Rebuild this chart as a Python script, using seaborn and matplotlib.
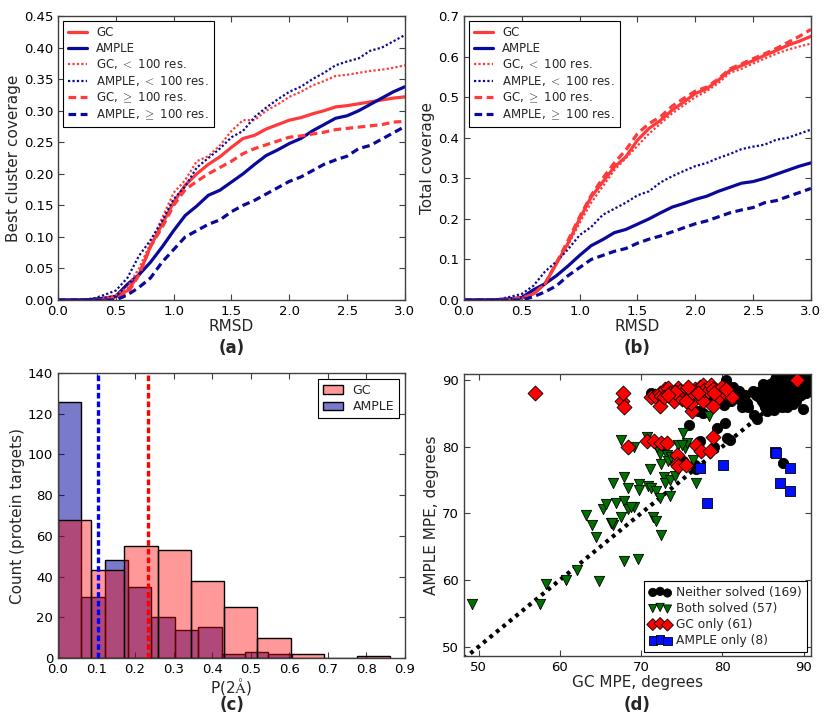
"""
GC vs AMPLE comparison — four panel figure.
(a)/(b) coverage vs RMSD, (c) P(2A) histogram, (d) MPE scatter.
"""

import numpy as np
import matplotlib
matplotlib.use("Agg")
import matplotlib.pyplot as plt
import seaborn as sns

# ── Data ─────────────────────────────────────────────────────
RMSD = [0.0, 0.1, 0.2, 0.3, 0.4, 0.5, 0.6, 0.7, 0.8, 0.9, 1.0,
        1.1, 1.2, 1.3, 1.4, 1.5, 1.6, 1.7, 1.8, 1.9, 2.0,
        2.1, 2.2, 2.3, 2.4, 2.5, 2.6, 2.7, 2.8, 2.9, 3.0]

# (a) best cluster coverage
GC_BEST = [0, 0, 0, 0.001, 0.002, 0.005, 0.015, 0.04, 0.085, 0.12, 0.155,
           0.182, 0.200, 0.215, 0.227, 0.242, 0.256, 0.261, 0.271, 0.278, 0.285,
           0.289, 0.295, 0.300, 0.306, 0.308, 0.311, 0.314, 0.317, 0.320, 0.322]
GC_BEST_SMALL = [0, 0, 0, 0.001, 0.003, 0.008, 0.02, 0.05, 0.09, 0.13, 0.17,
                 0.19, 0.22, 0.228, 0.245, 0.268, 0.285, 0.285, 0.30, 0.31, 0.322,
                 0.33, 0.34, 0.347, 0.355, 0.357, 0.36, 0.363, 0.365, 0.368, 0.372]
GC_BEST_LARGE = [0, 0, 0, 0, 0.001, 0.003, 0.01, 0.04, 0.085, 0.115, 0.15,
                 0.175, 0.188, 0.20, 0.21, 0.22, 0.232, 0.24, 0.246, 0.252, 0.258,
                 0.26, 0.263, 0.266, 0.27, 0.272, 0.274, 0.276, 0.278, 0.282, 0.283]

# AMPLE curves (same in both panels)
AMPLE_ALL = [0, 0, 0, 0.001, 0.003, 0.006, 0.025, 0.04, 0.06, 0.084, 0.11,
             0.134, 0.149, 0.166, 0.174, 0.187, 0.20, 0.215, 0.229, 0.238, 0.248,
             0.256, 0.268, 0.278, 0.288, 0.292, 0.30, 0.31, 0.32, 0.33, 0.338]
AMPLE_SMALL = [0, 0, 0.001, 0.002, 0.008, 0.015, 0.035, 0.07, 0.095, 0.125, 0.16,
               0.18, 0.21, 0.225, 0.24, 0.258, 0.268, 0.29, 0.305, 0.318, 0.33,
               0.338, 0.35, 0.36, 0.372, 0.378, 0.383, 0.395, 0.40, 0.41, 0.42]
AMPLE_LARGE = [0, 0, 0, 0, 0, 0, 0.008, 0.02, 0.035, 0.06, 0.08,
               0.10, 0.11, 0.12, 0.127, 0.14, 0.15, 0.158, 0.168, 0.178, 0.188,
               0.195, 0.205, 0.215, 0.222, 0.228, 0.24, 0.245, 0.255, 0.265, 0.275]

# (b) total coverage, GC
GC_TOTAL = [0, 0, 0, 0.001, 0.002, 0.005, 0.015, 0.04, 0.09, 0.14, 0.20,
            0.254, 0.291, 0.328, 0.353, 0.394, 0.423, 0.443, 0.468, 0.488, 0.509,
            0.521, 0.542, 0.566, 0.578, 0.59, 0.603, 0.615, 0.628, 0.638, 0.65]
GC_TOTAL_SMALL = [0, 0, 0, 0.001, 0.002, 0.005, 0.015, 0.04, 0.09, 0.135, 0.19,
                  0.24, 0.28, 0.32, 0.35, 0.38, 0.41, 0.435, 0.46, 0.48, 0.50,
                  0.515, 0.535, 0.56, 0.57, 0.583, 0.595, 0.607, 0.617, 0.625, 0.632]
GC_TOTAL_LARGE = [0, 0, 0, 0.001, 0.002, 0.005, 0.015, 0.04, 0.092, 0.147, 0.205,
                  0.258, 0.30, 0.338, 0.37, 0.41, 0.435, 0.452, 0.478, 0.497, 0.515,
                  0.525, 0.545, 0.57, 0.582, 0.595, 0.607, 0.62, 0.635, 0.65, 0.667]

# (c) P(2A) histograms
GC_EDGES = [0.0, 0.0862, 0.1724, 0.2586, 0.3448, 0.431, 0.5172, 0.6034, 0.6896, 0.7758, 0.862]
GC_COUNTS = [68, 43, 55, 53, 38, 25, 10, 2, 0, 1]
AMPLE_EDGES = [0.0, 0.0606, 0.1212, 0.1818, 0.2424, 0.303, 0.3636, 0.4242, 0.4848, 0.5454, 0.606]
AMPLE_COUNTS = [126, 30, 48, 35, 20, 14, 15, 2, 3, 2]
GC_MEAN = 0.233
AMPLE_MEAN = 0.103

# (d) MPE scatter  (GC MPE, AMPLE MPE)
NEITHER = [
    (71.2, 88.0), (72.9, 88.2), (73.5, 87.8), (75.6, 87.0), (76.4, 88.5), (77.0, 85.3),
    (77.6, 85.0), (75.9, 83.3), (77.2, 80.9), (76.6, 77.3), (76.8, 76.6), (75.1, 77.9),
    (79.0, 79.9), (79.4, 82.8), (80.3, 83.6), (80.6, 81.3), (81.0, 81.0), (80.5, 90.0),
    (80.2, 86.3), (81.3, 88.9), (81.1, 86.8), (82.0, 87.2), (82.4, 85.9), (82.8, 87.7),
    (83.2, 86.0), (83.0, 86.6), (83.8, 88.3), (84.2, 87.7), (83.9, 84.7), (84.3, 84.2),
    (87.5, 77.6), (79.0, 88.0), (78.2, 87.6), (82.1, 88.4), (84.0, 88.0), (85.0, 89.4),
    (86.6, 90.4), (87.9, 90.6), (88.6, 90.3), (89.5, 90.5), (90.0, 90.2), (90.5, 90.7), (90.8, 90.8),
    (86.4, 89.9), (87.5, 90.0), (88.0, 89.8), (88.9, 90.1), (89.7, 89.9), (90.2, 90.0),
    (85.9, 89.4), (86.8, 89.5), (87.3, 89.3), (87.8, 89.6), (88.3, 89.4), (88.7, 89.5),
    (89.1, 89.3), (89.6, 89.6), (90.1, 89.4),
    (85.2, 88.9), (85.7, 89.0), (86.1, 88.8), (86.6, 89.1), (87.0, 88.9), (87.5, 89.0),
    (88.0, 88.8), (88.4, 89.1), (88.9, 88.9), (89.3, 89.0), (89.8, 88.8),
    (84.6, 88.4), (85.1, 88.5), (85.6, 88.3), (86.0, 88.6), (86.4, 88.4), (86.9, 88.5),
    (87.3, 88.3), (87.7, 88.6), (88.2, 88.4), (88.6, 88.3), (89.0, 88.5), (89.5, 88.4), (90.0, 88.6),
    (84.8, 88.0), (85.3, 87.9), (85.7, 88.1), (86.2, 87.8), (86.6, 88.0), (87.1, 87.9),
    (87.5, 88.1), (87.9, 87.8), (88.3, 88.0), (88.8, 87.9), (89.2, 88.1), (89.7, 87.8), (90.3, 88.0),
    (84.5, 87.4), (85.0, 87.5), (85.4, 87.3), (85.9, 87.6), (86.3, 87.4), (86.7, 87.5),
    (87.2, 87.3), (87.6, 87.6), (88.0, 87.4), (88.5, 87.5), (88.9, 87.3), (89.4, 87.6),
    (84.9, 86.9), (85.3, 87.1), (85.8, 86.8), (86.2, 87.0), (86.6, 86.9), (87.0, 87.1),
    (87.4, 86.8), (87.9, 87.0), (88.3, 86.9), (88.7, 87.1), (89.1, 86.8),
    (85.1, 86.4), (85.6, 86.5), (86.0, 86.3), (86.5, 86.6), (86.9, 86.4), (87.3, 86.5),
    (87.8, 86.3), (88.2, 86.6), (88.7, 86.4),
    (85.2, 85.9), (85.7, 86.0), (86.2, 85.8), (86.8, 86.1), (87.4, 85.9), (88.0, 86.0),
    (85.5, 85.4), (86.4, 85.5), (89.9, 85.7), (90.3, 88.9), (90.5, 89.5), (89.6, 88.1),
]
BOTH = [
    (49.2, 56.4), (57.6, 56.4), (58.3, 59.4), (60.8, 60.0), (62.1, 61.5), (64.8, 59.8),
    (63.2, 69.7), (64.0, 68.3), (64.4, 66.5), (65.3, 70.7), (65.7, 71.4), (66.3, 68.5),
    (66.5, 68.3), (66.6, 74.6), (66.9, 71.5), (67.5, 69.4), (67.5, 81.0), (67.9, 75.4),
    (67.9, 71.8), (67.9, 62.9), (68.4, 70.7), (68.4, 73.8), (69.1, 80.0), (69.1, 71.0),
    (69.6, 63.2), (69.8, 74.4), (69.7, 73.5), (70.7, 81.4), (70.8, 74.1), (71.1, 76.6),
    (71.2, 73.8), (71.5, 69.5), (71.8, 73.4), (71.8, 68.8), (72.3, 72.3), (72.3, 78.9),
    (72.5, 77.4), (72.5, 66.7), (72.8, 75.5), (72.9, 74.6), (73.2, 78.8), (73.3, 77.8),
    (73.6, 72.6), (73.5, 75.0), (73.7, 78.4), (74.2, 75.6), (74.6, 80.3), (75.1, 82.1),
    (75.4, 79.8), (75.7, 80.5), (76.4, 78.0), (76.7, 74.5), (78.4, 84.6), (66.4, 68.6),
    (72.0, 80.0), (68.8, 70.9), (75.0, 80.3),
]
GC_ONLY = [
    (57.0, 88.1), (67.6, 86.8), (67.8, 88.0), (67.9, 85.9), (68.4, 80.0), (70.7, 80.8),
    (71.6, 80.9), (72.5, 80.6), (73.2, 80.6), (74.4, 78.7), (74.4, 77.4), (74.5, 77.1),
    (75.5, 77.3), (76.7, 80.2), (77.4, 79.4), (78.5, 79.4), (78.8, 81.5), (76.3, 85.3),
    (76.2, 86.5), (77.6, 86.8), (78.8, 86.1),
    (71.2, 87.4), (71.7, 87.6), (72.3, 88.1), (72.5, 87.6), (72.3, 86.1), (73.0, 88.6),
    (73.3, 88.8), (73.6, 88.0), (73.8, 87.3), (74.0, 86.8), (74.5, 88.8), (74.8, 88.4),
    (75.0, 87.2), (75.4, 88.0), (75.7, 88.6), (76.0, 87.6), (76.3, 88.2), (76.6, 88.7),
    (76.9, 88.2), (77.2, 89.0), (77.6, 89.2), (77.8, 88.5), (78.2, 88.3), (78.6, 89.3),
    (78.9, 88.6), (79.3, 88.4), (79.6, 87.4), (79.9, 88.9), (80.2, 88.2), (81.2, 87.4),
    (89.2, 90.0), (75.5, 86.9), (77.0, 88.0), (74.2, 88.2), (72.8, 87.4), (73.3, 87.8),
    (75.8, 88.9), (79.0, 88.0), (80.4, 88.7),
]
AMPLE_ONLY = [(77.3, 76.8), (78.1, 71.5), (80.1, 77.2), (86.5, 79.2), (87.1, 74.5),
              (88.3, 76.8), (88.3, 73.3), (86.6, 79.0)]

RED = "#ff3a3a"
NAVY = "#0a0a9a"

# ── Style ────────────────────────────────────────────────────
sns.set_style("white")
plt.rcParams.update({
    "font.family": ["DejaVu Sans"],
    "xtick.direction": "in", "ytick.direction": "in",
    "xtick.top": True, "ytick.right": True,
    "xtick.major.size": 4, "ytick.major.size": 4,
    "xtick.bottom": True, "ytick.left": True,
    "axes.edgecolor": "0.25", "axes.linewidth": 1.0,
    "xtick.color": "0.25", "ytick.color": "0.25",
    "xtick.labelcolor": "black", "ytick.labelcolor": "black",
    "xtick.labelsize": 9.5, "ytick.labelsize": 9.5,
    "xtick.major.pad": 3.5, "ytick.major.pad": 3.5,
    "axes.labelsize": 11, "mathtext.fontset": "cm",
})

fig = plt.figure(figsize=(8.3, 7.2), dpi=100)
ax_a = fig.add_axes([0.0699, 0.5833, 0.418, 0.3944])
ax_b = fig.add_axes([0.559, 0.5833, 0.418, 0.3944])
ax_c = fig.add_axes([0.0699, 0.0861, 0.418, 0.3958])
ax_d = fig.add_axes([0.559, 0.0889, 0.418, 0.3917])

DOT = (0, (1, 1))
DASH = (0, (2.4, 1.4))
FMT = matplotlib.ticker.FormatStrFormatter


def coverage_panel(ax, gc, gc_small, gc_large, ylabel, ymax, yticks):
    sns.lineplot(x=RMSD, y=gc, ax=ax, color=RED, lw=2.3, label="GC")
    sns.lineplot(x=RMSD, y=AMPLE_ALL, ax=ax, color=NAVY, lw=2.3, label="AMPLE")
    sns.lineplot(x=RMSD, y=gc_small, ax=ax, color=RED, lw=1.6, linestyle=DOT,
                 label=r"GC, $<$ 100 res.")
    sns.lineplot(x=RMSD, y=AMPLE_SMALL, ax=ax, color=NAVY, lw=1.6, linestyle=DOT,
                 label=r"AMPLE, $<$ 100 res.")
    sns.lineplot(x=RMSD, y=gc_large, ax=ax, color=RED, lw=2.3, linestyle=DASH,
                 label=r"GC, $\geq$ 100 res.")
    sns.lineplot(x=RMSD, y=AMPLE_LARGE, ax=ax, color=NAVY, lw=2.3, linestyle=DASH,
                 label=r"AMPLE, $\geq$ 100 res.")
    ax.set_xlim(0, 3.0)
    ax.set_ylim(0, ymax)
    ax.set_xticks(np.arange(0, 3.01, 0.5))
    ax.set_yticks(yticks)
    ax.xaxis.set_major_formatter(FMT("%.1f"))
    ax.set_xlabel("RMSD", labelpad=1)
    ax.set_ylabel(ylabel, labelpad=2)
    leg = ax.legend(loc="upper left", fontsize=8.5, fancybox=False, framealpha=1,
                    edgecolor="black", handlelength=1.6, borderpad=0.45,
                    labelspacing=0.22, borderaxespad=0.4)
    leg.get_frame().set_linewidth(0.8)


coverage_panel(ax_a, GC_BEST, GC_BEST_SMALL, GC_BEST_LARGE, "Best cluster coverage",
               0.45, np.arange(0, 0.451, 0.05))
ax_a.yaxis.set_major_formatter(FMT("%.2f"))
coverage_panel(ax_b, GC_TOTAL, GC_TOTAL_SMALL, GC_TOTAL_LARGE, "Total coverage",
               0.7, np.arange(0, 0.71, 0.1))
ax_b.yaxis.set_major_formatter(FMT("%.1f"))

# ── (c) histograms ───────────────────────────────────────────
ample_mid = [(a + b) / 2 for a, b in zip(AMPLE_EDGES[:-1], AMPLE_EDGES[1:])]
gc_mid = [(a + b) / 2 for a, b in zip(GC_EDGES[:-1], GC_EDGES[1:])]
sns.histplot(x=ample_mid, weights=AMPLE_COUNTS, bins=AMPLE_EDGES, ax=ax_c,
             color="#00009a", alpha=0.52, edgecolor="black", linewidth=1.0)
sns.histplot(x=gc_mid, weights=GC_COUNTS, bins=GC_EDGES, ax=ax_c,
             color="#ff0000", alpha=0.4, edgecolor="black", linewidth=1.0)
ax_c.axvline(AMPLE_MEAN, color="#0000ff", lw=2.4, linestyle=(0, (1.7, 0.9)))
ax_c.axvline(GC_MEAN, color="#ff0000", lw=2.4, linestyle=(0, (1.7, 0.9)))
ax_c.set_xlim(0, 0.9)
ax_c.set_ylim(0, 140)
ax_c.set_xticks(np.arange(0, 0.91, 0.1))
ax_c.xaxis.set_major_formatter(FMT("%.1f"))
ax_c.set_yticks(np.arange(0, 141, 20))
ax_c.set_xlabel(r"P(2$\mathrm{\AA}$)", labelpad=0)
ax_c.set_ylabel("Count (protein targets)", labelpad=2)
bars = ax_c.patches
leg = ax_c.legend([bars[len(AMPLE_COUNTS)], bars[0]], ["GC", "AMPLE"], loc="upper right",
                  fontsize=9, fancybox=False, framealpha=1, edgecolor="black",
                  handlelength=1.6, borderpad=0.35, labelspacing=0.3)
leg.get_frame().set_linewidth(0.8)

# ── (d) scatter ──────────────────────────────────────────────
ax_d.plot([48.2, 90.9], [48.2, 90.9], color="black", lw=3.0,
          linestyle=(0, (0.9, 1.1)), zorder=1)
groups = [
    (NEITHER, "o", "black", 55, "Neither solved (169)"),
    (BOTH, "v", "#007000", 55, "Both solved (57)"),
    (GC_ONLY, "D", "#ff0000", 58, "GC only (61)"),
    (AMPLE_ONLY, "s", "#0010ff", 58, "AMPLE only (8)"),
]
for pts, mk, col, size, lab in groups:
    xs = [p[0] for p in pts]
    ys = [p[1] for p in pts]
    sns.scatterplot(x=xs, y=ys, ax=ax_d, marker=mk, color=col, s=size,
                    edgecolor="black", linewidth=0.6, label=lab, zorder=2)
ax_d.set_xlim(48.2, 90.9)
ax_d.set_ylim(48.6, 90.9)
ax_d.set_xticks([50, 60, 70, 80, 90])
ax_d.set_yticks([50, 60, 70, 80, 90])
ax_d.set_xlabel("GC MPE, degrees", labelpad=1)
ax_d.set_ylabel("AMPLE MPE, degrees", labelpad=2)
leg = ax_d.legend(loc="lower right", fontsize=8.8, scatterpoints=3, fancybox=False,
                  framealpha=1, edgecolor="black", borderpad=0.4, labelspacing=0.25,
                  handlelength=1.8, handletextpad=0.4, borderaxespad=0.35,
                  markerscale=0.8)
leg.get_frame().set_linewidth(0.8)

# panel tags
for lab, x, y in [("(a)", 0.279, 0.516), ("(b)", 0.768, 0.516),
                  ("(c)", 0.279, 0.021), ("(d)", 0.768, 0.021)]:
    fig.text(x, y, lab, ha="center", va="center", fontsize=12, fontweight="bold")

plt.savefig("out.png", dpi=100)
